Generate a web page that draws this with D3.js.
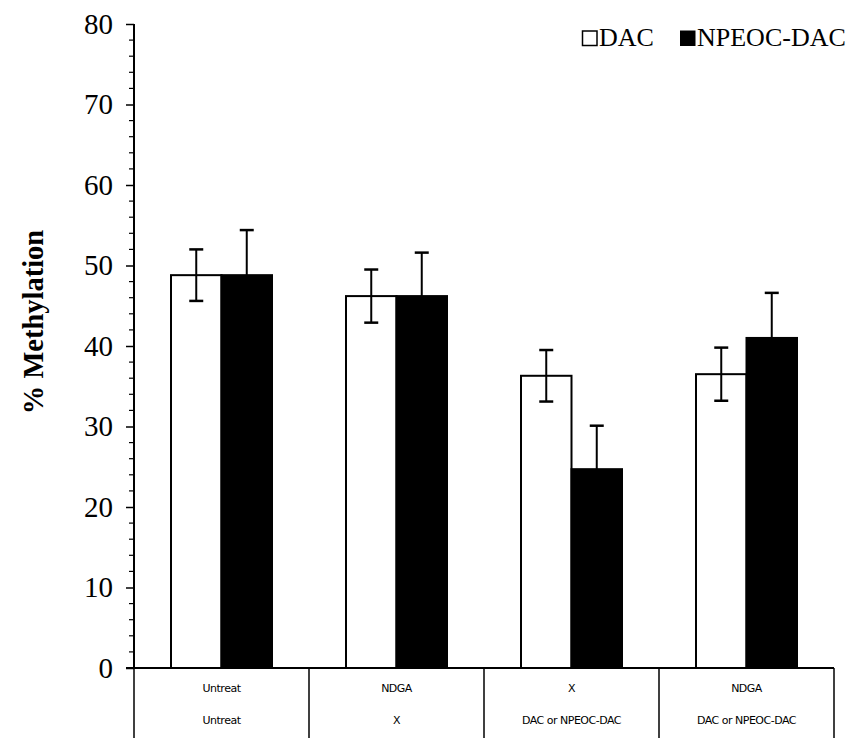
<!DOCTYPE html>
<html><head><meta charset="utf-8">
<script src="https://cdn.jsdelivr.net/npm/d3@7"></script>
<style>body{margin:0;background:#fff}svg{display:block}</style>
</head><body>
<svg id="c" width="863" height="746"></svg>
<script>
const categories = ["G1","G2","G3","G4"];
const row1Labels = ["Untreat","NDGA","X","NDGA"];
const row2Labels = ["Untreat","X","DAC or NPEOC-DAC","DAC or NPEOC-DAC"];
const seriesNames = ["DAC","NPEOC-DAC"];
const dacValues = [48.8, 46.2, 36.3, 36.5];
const dacErrors = [3.2, 3.3, 3.2, 3.3];
const npeocValues = [48.8, 46.2, 24.7, 41.0];
const npeocErrors = [5.6, 5.4, 5.4, 5.6];
const yTicks = [0,10,20,30,40,50,60,70,80];

(function(){
const svg = d3.select("#c");
const mL = 134, mR = 834, mT = 24, mB = 668;
const y = d3.scaleLinear().domain([0,80]).range([mB, mT]);
const x = d3.scaleBand().domain(categories).range([mL, mR]).paddingInner(0).paddingOuter(0);
const barW = 50.5;
const serif = "Liberation Serif, Times New Roman, serif";

const yAxis = d3.axisLeft(y).tickValues(yTicks).tickSize(8).tickFormat(d3.format("d"));
const gy = svg.append("g").attr("transform", `translate(${mL},0)`).call(yAxis);
gy.select(".domain").attr("stroke","#000").attr("stroke-width",2).attr("d",`M0,${mT}V${mB}`);
gy.selectAll(".tick line").attr("stroke","#000").attr("stroke-width",1.5);
gy.selectAll(".tick text").attr("font-family",serif).attr("font-size",29).attr("fill","#000").attr("x",-21);
const minor = d3.range(0,81,2).filter(v => v % 10 !== 0);
svg.append("g").selectAll("line").data(minor).join("line")
  .attr("x1", mL-5).attr("x2", mL).attr("y1", d=>y(d)).attr("y2", d=>y(d))
  .attr("stroke","#000").attr("stroke-width",1.2);

svg.append("text").attr("transform",`translate(43,322) rotate(-90)`)
  .attr("text-anchor","middle").attr("font-family",serif)
  .attr("font-weight","bold").attr("font-size",28.5).text("% Methylation");

const g = svg.append("g");
categories.forEach((c,i) => {
  const cx = x(c) + x.bandwidth()/2;
  const xs = [cx - barW, cx];
  const vals = [dacValues[i], npeocValues[i]];
  vals.forEach((v,j) => {
    g.append("rect").attr("x", xs[j]).attr("y", y(v)).attr("width", barW).attr("height", y(0)-y(v))
      .attr("fill", j===0 ? "#fff" : "#000").attr("stroke","#000").attr("stroke-width",2);
  });
  const ex0 = xs[0] + barW/2;
  g.append("line").attr("x1",ex0).attr("x2",ex0).attr("y1",y(dacValues[i]+dacErrors[i])).attr("y2",y(dacValues[i]-dacErrors[i])).attr("stroke","#000").attr("stroke-width",2);
  [dacValues[i]+dacErrors[i], dacValues[i]-dacErrors[i]].forEach(v=>{
    g.append("line").attr("x1",ex0-7).attr("x2",ex0+7).attr("y1",y(v)).attr("y2",y(v)).attr("stroke","#000").attr("stroke-width",2.5);
  });
  const ex1 = xs[1] + barW/2;
  g.append("line").attr("x1",ex1).attr("x2",ex1).attr("y1",y(npeocValues[i]+npeocErrors[i])).attr("y2",y(npeocValues[i])).attr("stroke","#000").attr("stroke-width",2);
  g.append("line").attr("x1",ex1-7).attr("x2",ex1+7).attr("y1",y(npeocValues[i]+npeocErrors[i])).attr("y2",y(npeocValues[i]+npeocErrors[i])).attr("stroke","#000").attr("stroke-width",2.5);
});

svg.append("line").attr("x1",mL-8).attr("x2",mR).attr("y1",mB).attr("y2",mB).attr("stroke","#000").attr("stroke-width",2);
const bounds = categories.map(c => x(c)).concat([mR]);
svg.append("g").selectAll("line").data(bounds).join("line")
  .attr("x1",d=>d).attr("x2",d=>d).attr("y1",mB).attr("y2",738)
  .attr("stroke","#000").attr("stroke-width",1.5);
const tf = "DejaVu Sans, Arial, sans-serif";
categories.forEach((c,i)=>{
  const cx = x(c)+x.bandwidth()/2;
  svg.append("text").attr("x",cx).attr("y",692).attr("text-anchor","middle").attr("font-family",tf).attr("font-size",11).attr("letter-spacing",-0.5).text(row1Labels[i]);
  svg.append("text").attr("x",cx).attr("y",724).attr("text-anchor","middle").attr("font-family",tf).attr("font-size",11).attr("letter-spacing",-0.5).text(row2Labels[i]);
});

const leg = svg.append("g");
leg.append("rect").attr("x",582.5).attr("y",31).attr("width",14.5).attr("height",14.5).attr("fill","#fff").attr("stroke","#000").attr("stroke-width",1.5);
leg.append("text").attr("x",599).attr("y",46).attr("font-family",serif).attr("font-size",26).text(seriesNames[0]);
leg.append("rect").attr("x",680).attr("y",30.5).attr("width",15.5).attr("height",15.5).attr("fill","#000");
leg.append("text").attr("x",697).attr("y",46).attr("font-family",serif).attr("font-size",26).text(seriesNames[1]);
})();
</script>
</body></html>
